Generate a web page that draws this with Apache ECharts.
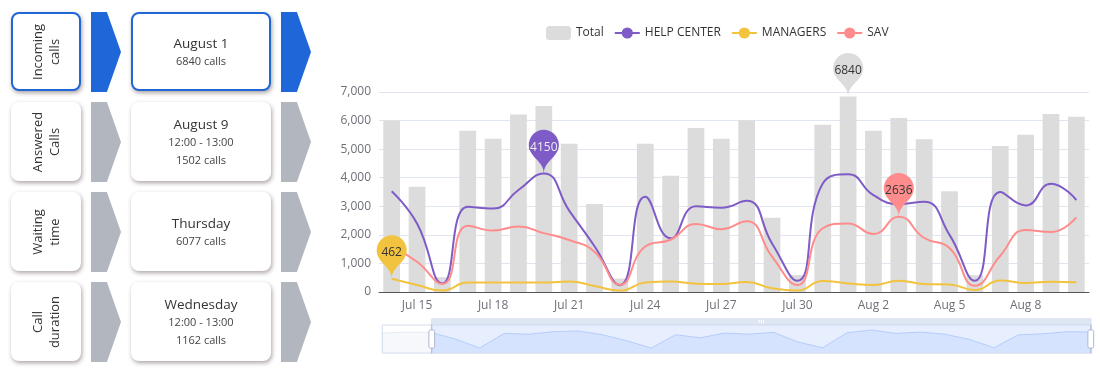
<!DOCTYPE html>
<html><head><meta charset="utf-8">
<script src="https://cdn.jsdelivr.net/npm/echarts@6/dist/echarts.min.js"></script>
<style>
html,body{margin:0;padding:0;background:#fff;width:1100px;height:379px;overflow:hidden;font-family:'Open Sans',sans-serif;}
#chart{position:absolute;left:0;top:0;width:1100px;height:379px;}
#panel{position:absolute;left:0;top:0;width:330px;height:379px;}
.card{position:absolute;box-sizing:border-box;background:#fff;border-radius:8px;box-shadow:1px 2px 4px rgba(70,50,50,0.45);color:#333;}
.card.active{border:2px solid #2266d6;}
.lbl{width:70px;height:79px;left:11px;}
.info{width:140px;height:79px;left:131px;display:flex;flex-direction:column;justify-content:center;align-items:center;text-align:center;}
.rot{position:absolute;left:50%;top:50%;transform:translate(-50%,-50%) rotate(-90deg);font-size:13px;line-height:17px;text-align:center;white-space:nowrap;color:#333;}
.t1{font-size:13.5px;line-height:18px;color:#333;}
.t2{font-size:11px;line-height:18px;color:#444;}
.arrow{position:absolute;width:30px;height:80px;clip-path:polygon(0 0,53% 0,100% 50%,53% 100%,0 100%);background:#b1b6bf;}
.arrow.active{background:#1f66d8;}
</style></head>
<body>
<div id="chart"></div>
<div id="panel"></div>
<script>
// ---- data ----
var categories = ['Jul 12','Jul 13','Jul 14','Jul 15','Jul 16','Jul 17','Jul 18','Jul 19','Jul 20','Jul 21','Jul 22','Jul 23','Jul 24','Jul 25','Jul 26','Jul 27','Jul 28','Jul 29','Jul 30','Jul 31','Aug 1','Aug 2','Aug 3','Aug 4','Aug 5','Aug 6','Aug 7','Aug 8','Aug 9','Aug 10'];
var totalCalls = [5750,6050,6000,3680,520,5640,5360,6210,6510,5190,3080,470,5190,4070,5740,5360,6010,2600,590,5850,6840,5640,6090,5350,3530,590,5110,5500,6230,6130];
var helpCenter = [3300,3450,3530,2400,300,2980,2920,3570,4150,2850,1600,240,3330,1880,3000,2950,3190,1700,390,3800,4120,3390,3080,3160,2000,390,3500,3030,3790,3220];
var managers = [380,420,462,245,50,330,330,335,330,370,210,50,330,370,290,280,350,130,50,385,300,245,395,280,260,70,405,315,360,340];
var sav = [1800,1700,1600,1060,280,2320,2150,2290,2060,1820,1410,250,1590,1830,2380,2200,2480,1240,245,2230,2400,2030,2636,1890,1540,220,1270,2170,2100,2610];
var seriesNames = ['Total','HELP CENTER','MANAGERS','SAV'];
var kpiLabels = [['Incoming','calls'],['Answered','Calls'],['Waiting','time'],['Call','duration']];
var kpiValues = [['August 1','6840 calls'],['August 9','12:00 - 13:00','1502 calls'],['Thursday','6077 calls'],['Wednesday','12:00 - 13:00','1162 calls']];
var activeKpi = 0;

// ---- left panel ----
var panel = document.getElementById('panel');
var html = '';
kpiLabels.forEach(function(lines, i){
  var top = 12 + i*90;
  var act = i === activeKpi ? ' active' : '';
  html += '<div class="card lbl'+act+'" style="top:'+top+'px"><div class="rot">'+lines.join('<br>')+'</div></div>';
  html += '<div class="arrow'+act+'" style="left:91px;top:'+top+'px"></div>';
  var v = kpiValues[i];
  var inner = '<div class="t1">'+v[0]+'</div>';
  for (var k=1;k<v.length;k++) inner += '<div class="t2">'+v[k]+'</div>';
  html += '<div class="card info'+act+'" style="top:'+top+'px">'+inner+'</div>';
  html += '<div class="arrow'+act+'" style="left:281px;top:'+top+'px"></div>';
});
panel.innerHTML = html;

// ---- chart ----
var colors = ['#dcdcdc','#7e5bc6','#f2c33e','#ff8c8c'];
var chart = echarts.init(document.getElementById('chart'));
function lineSeries(name, data, color){
  return {
    name: name, type: 'line', data: data, smooth: true, symbol: 'circle', showSymbol: false,
    lineStyle: {width: 2, color: color}, itemStyle: {color: color},
    markPoint: {data: [{type: 'max', name: 'max'}]}
  };
}
chart.setOption({
  animation: false,
  textStyle: {fontFamily: "'Open Sans', sans-serif"},
  color: colors,
  legend: {top: 21, left: 541, itemGap: 10, textStyle: {color: '#333', fontSize: 12}},
  grid: {left: 379, right: 11, top: 92, bottom: 87},
  xAxis: {
    type: 'category', data: categories,
    axisTick: {alignWithLabel: true, interval: 2},
    axisLabel: {interval: 2, color: '#6e7079', fontSize: 12}
  },
  yAxis: {
    type: 'value', min: 0, max: 7000, interval: 1000,
    axisLabel: {color: '#6e7079', fontSize: 12},
    splitLine: {lineStyle: {color: '#e0e6f1'}}
  },
  dataZoom: [{
    type: 'slider', startValue: 2, endValue: 29, left: 379, right: 11, top: 318, height: 29,
    moveHandleSize: 7,
    moveHandleStyle: {color: '#D2DBEE', opacity: 0.7},
    borderColor: '#d2dbee',
    fillerColor: 'rgba(135,175,274,0.2)',
    dataBackground: {lineStyle: {color: '#d2dbee', width: 0.5}, areaStyle: {color: '#d2dbee', opacity: 0.2}},
    selectedDataBackground: {lineStyle: {color: '#8fb0f7', width: 0.5}, areaStyle: {color: '#8fb0f7', opacity: 0.2}},
    handleStyle: {color: '#fff', borderColor: '#ACB8D1'},
    showDetail: false
  }],
  series: [
    {name: seriesNames[0], type: 'bar', data: totalCalls, barWidth: '66%', itemStyle: {color: colors[0]},
     markPoint: {data: [{type: 'max', name: 'max'}]}},
    lineSeries(seriesNames[1], helpCenter, colors[1]),
    lineSeries(seriesNames[2], managers, colors[2]),
    lineSeries(seriesNames[3], sav, colors[3])
  ]
});
</script>
</body></html>
